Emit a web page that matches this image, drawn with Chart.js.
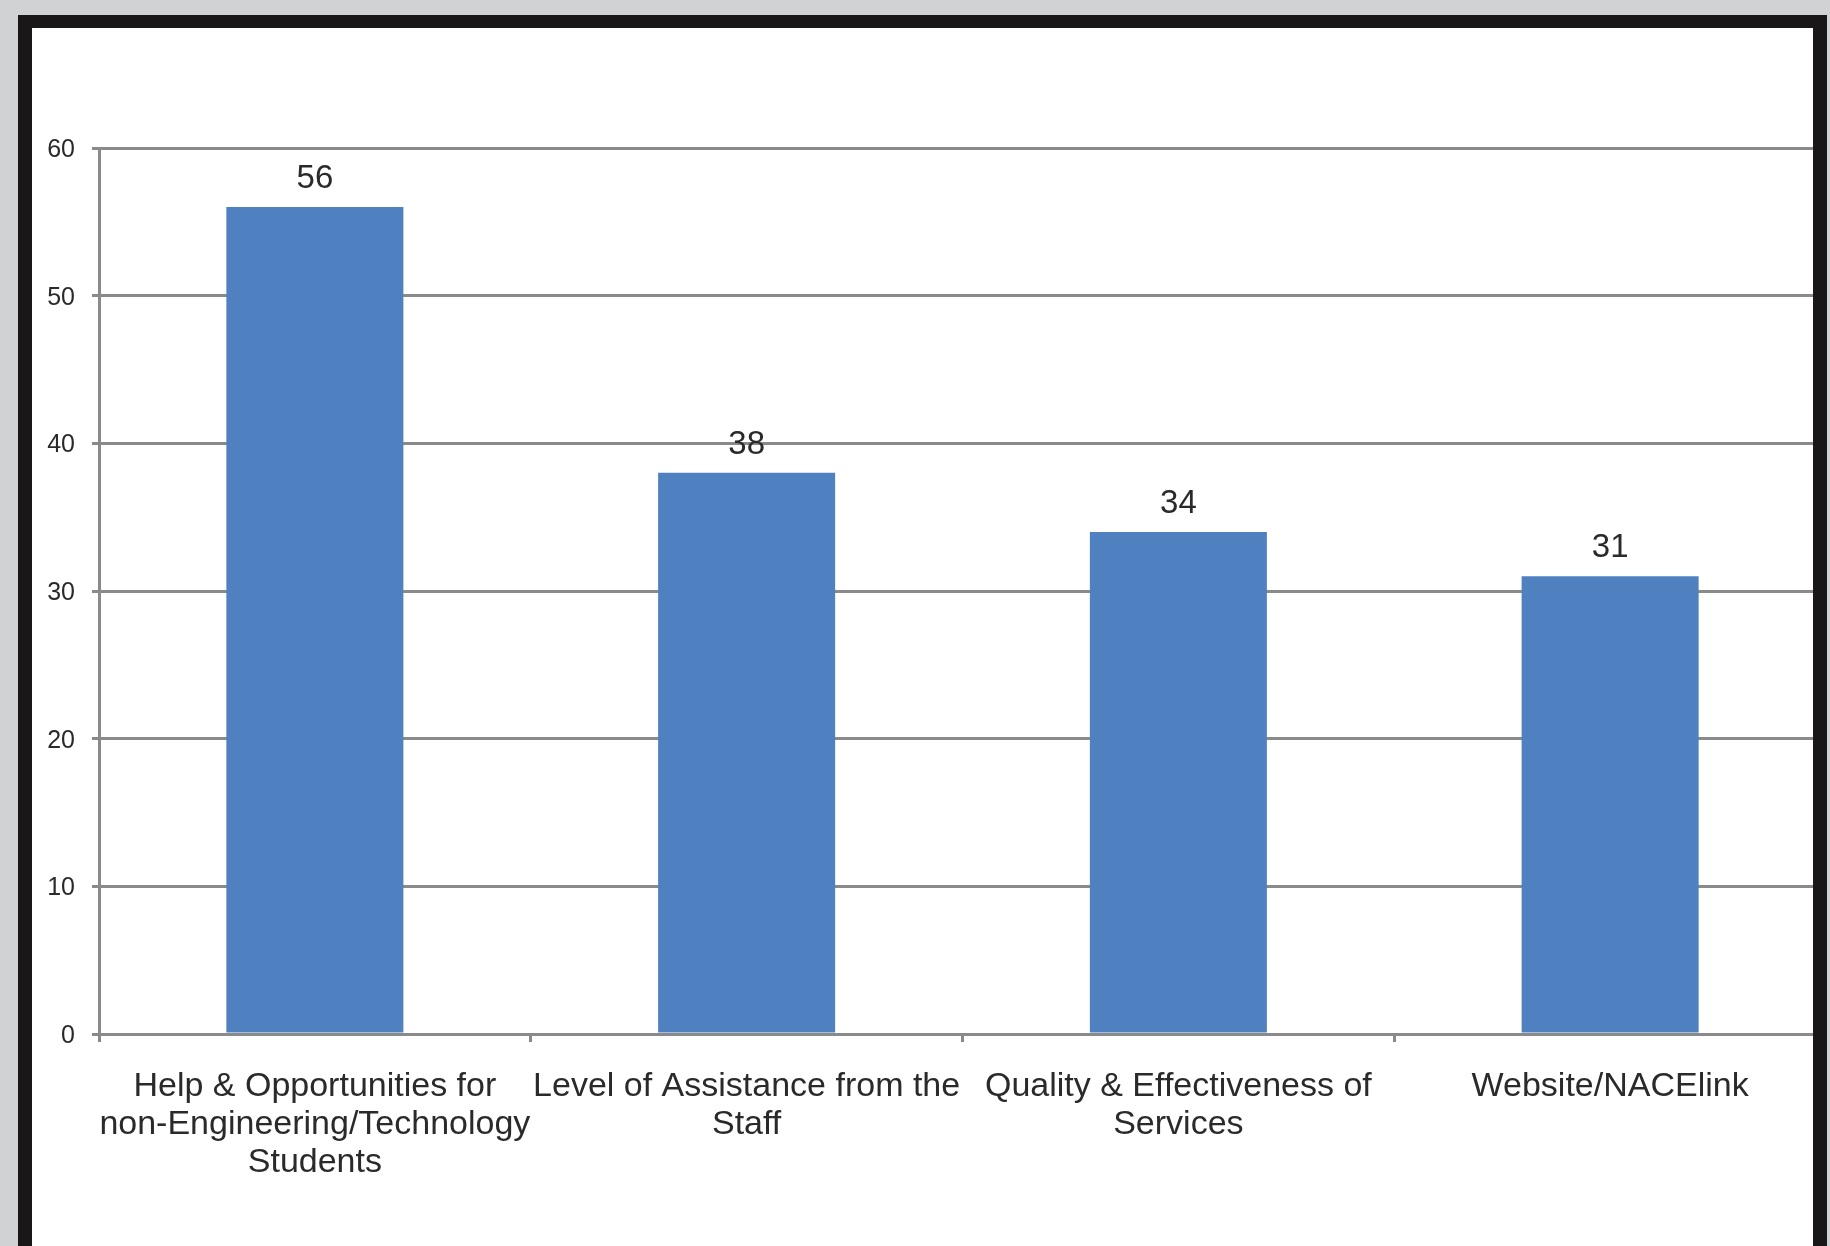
<!DOCTYPE html>
<html>
<head>
<meta charset="utf-8">
<title>Ratings</title>
<script src="https://cdn.jsdelivr.net/npm/chart.js@4"></script>
<style>
  html, body { margin: 0; padding: 0; background: #d1d2d4; }
  canvas { display: block; }
</style>
</head>
<body>
<canvas id="chart" width="1830" height="1246"></canvas>
<script>
// Category labels, one array entry per printed line
const categories = [
  ["Help & Opportunities for", "non-Engineering/Technology", "Students"],
  ["Level of Assistance from the", "Staff"],
  ["Quality & Effectiveness of", "Services"],
  ["Website/NACElink"]
];
const values = [56, 38, 34, 31];
const yTicks = [0, 10, 20, 30, 40, 50, 60];

const W = 1830, H = 1246;
const GRID = '#8a8a8a';
const TEXT = '#2a2a2a';
const FONT = '"Liberation Sans", Arial, sans-serif';

// Gray page, thick black frame, white panel
const framePlugin = {
  id: 'frame',
  beforeDraw(chart) {
    const c = chart.ctx;
    c.save();
    c.fillStyle = '#d1d2d4';
    c.fillRect(0, 0, W, H);
    c.fillStyle = '#1a1718';
    c.fillRect(18, 15, 1827 - 18, H - 15);
    c.fillStyle = '#ffffff';
    c.fillRect(32, 28, 1813 - 32, H - 28);
    c.restore();
  },
  afterDraw(chart) {
    const c = chart.ctx;
    c.save();
    c.fillStyle = '#1a1718';
    c.fillRect(1813, 15, 14, H - 15);
    c.fillStyle = '#d1d2d4';
    c.fillRect(1827, 0, W - 1827, H);
    c.restore();
  }
};

// Value printed above each bar
const valueLabels = {
  id: 'valueLabels',
  afterDatasetsDraw(chart) {
    const c = chart.ctx;
    const meta = chart.getDatasetMeta(0);
    c.save();
    c.font = '33px ' + FONT;
    c.fillStyle = TEXT;
    c.textAlign = 'center';
    c.textBaseline = 'middle';
    meta.data.forEach((bar, i) => {
      c.fillText(String(chart.data.datasets[0].data[i]), bar.x, bar.y - 28);
    });
    c.restore();
  }
};

new Chart(document.getElementById('chart'), {
  type: 'bar',
  data: {
    labels: categories,
    datasets: [{
      data: values,
      backgroundColor: '#4f80bf',
      borderWidth: 0,
      categoryPercentage: 1.0,
      barPercentage: 0.41
    }]
  },
  options: {
    responsive: false,
    animation: false,
    devicePixelRatio: 1,
    layout: { padding: { left: 0, top: 148, right: 4, bottom: 0 } },
    plugins: {
      legend: { display: false },
      tooltip: { enabled: false },
      title: { display: false }
    },
    scales: {
      x: {
        afterFit(scale) { scale.height = H - 1034; },
        grid: {
          display: true,
          drawOnChartArea: false,
          drawTicks: true,
          tickLength: 8,
          color: GRID,
          lineWidth: 3,
          offset: true
        },
        border: { display: true, color: GRID, width: 3 },
        ticks: {
          autoSkip: false,
          maxRotation: 0,
          minRotation: 0,
          padding: 25,
          color: TEXT,
          font: { family: FONT, size: 34, lineHeight: 1.13 }
        }
      },
      y: {
        min: 0,
        max: 60,
        afterFit(scale) { scale.width = 99; },
        afterBuildTicks(scale) { scale.ticks = yTicks.map(v => ({ value: v })); },
        grid: {
          color: GRID,
          lineWidth: 3,
          drawTicks: true,
          tickLength: 7
        },
        border: { display: true, color: GRID, width: 3 },
        ticks: {
          padding: 17,
          labelOffset: 2,
          color: TEXT,
          font: { family: FONT, size: 25 }
        }
      }
    }
  },
  plugins: [framePlugin, valueLabels]
});
</script>
</body>
</html>
